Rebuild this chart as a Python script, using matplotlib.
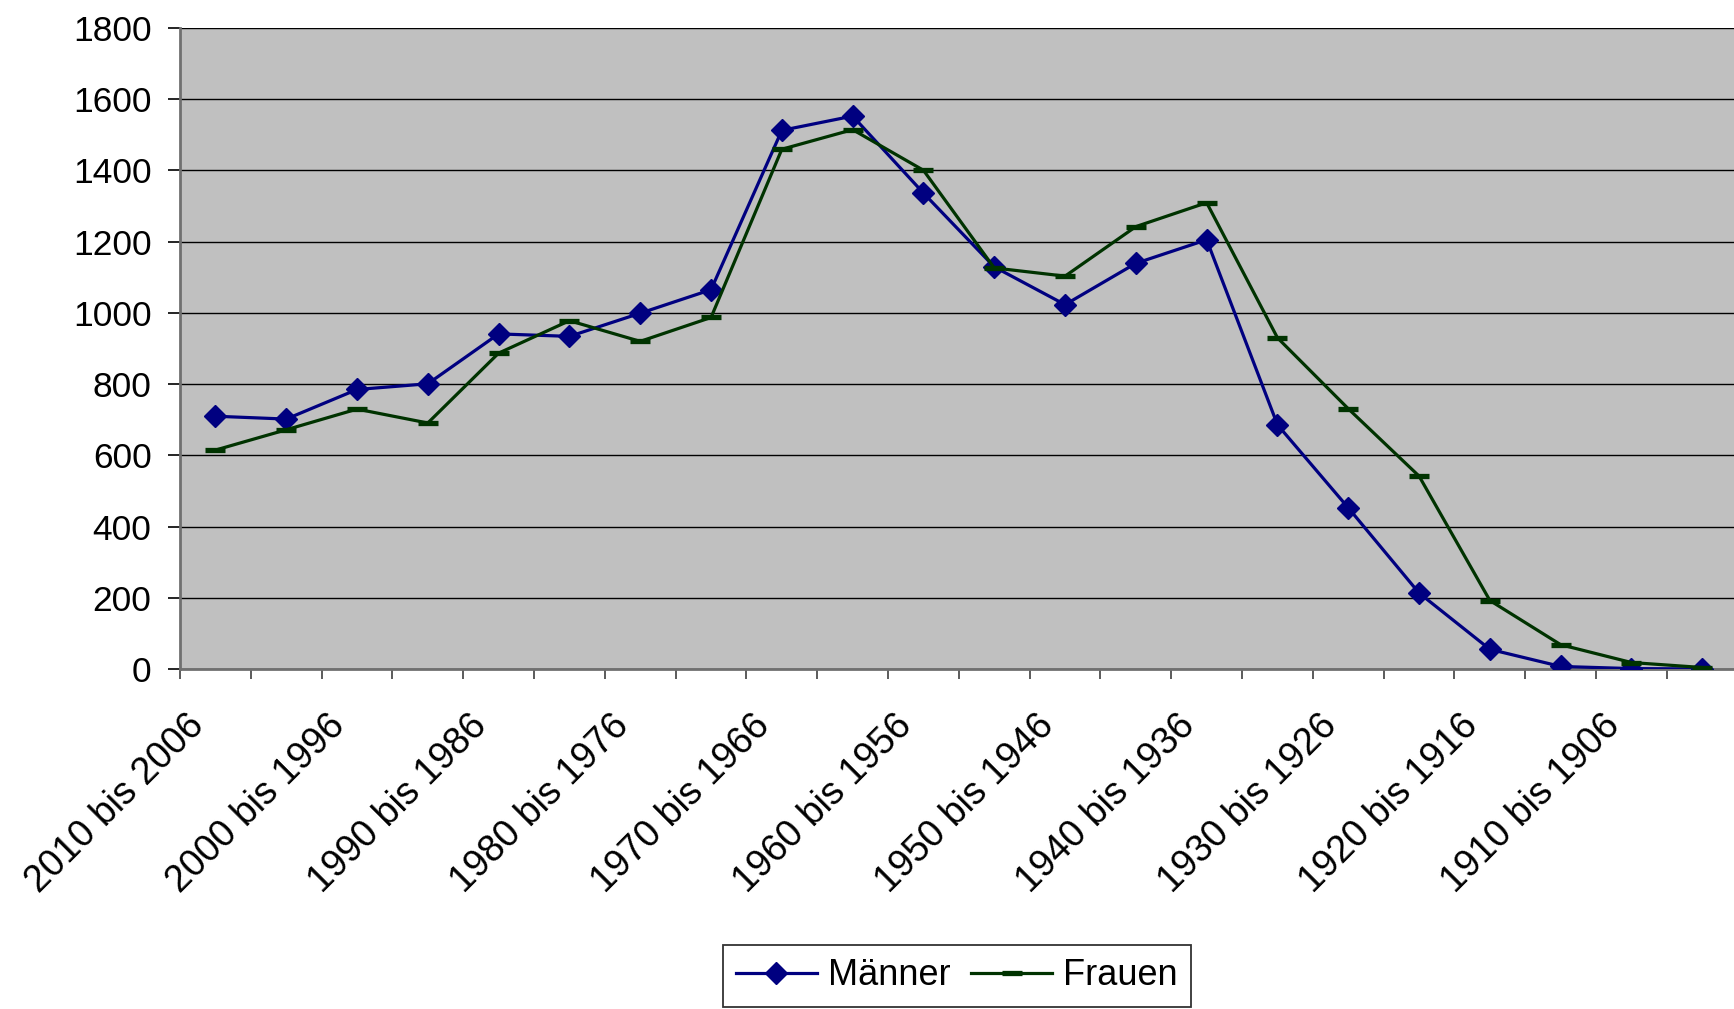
import matplotlib
matplotlib.use("Agg")
import matplotlib.pyplot as plt
from matplotlib.transforms import ScaledTranslation

plt.rcParams['font.family'] = ['Liberation Sans', 'DejaVu Sans']

categories = ["2010 bis 2006", "2005 bis 2001", "2000 bis 1996", "1995 bis 1991",
              "1990 bis 1986", "1985 bis 1981", "1980 bis 1976", "1975 bis 1971",
              "1970 bis 1966", "1965 bis 1961", "1960 bis 1956", "1955 bis 1951",
              "1950 bis 1946", "1945 bis 1941", "1940 bis 1936", "1935 bis 1931",
              "1930 bis 1926", "1925 bis 1921", "1920 bis 1916", "1915 bis 1911",
              "1910 bis 1906", "1905 bis 1901"]
maenner = [710, 702, 785, 801, 941, 934, 999, 1065, 1512, 1552, 1336, 1129,
           1023, 1139, 1205, 686, 453, 214, 56, 8, 2, 1]
frauen = [615, 672, 730, 691, 887, 978, 920, 987, 1459, 1514, 1400, 1126,
          1103, 1242, 1309, 930, 731, 542, 193, 69, 19, 5]
yticks = list(range(0, 1801, 200))

W, H = 1734, 1009
fig = plt.figure(figsize=(W / 100, H / 100), dpi=100)
left, right, top, bottom = 180 / W, 1737.7 / W, 1 - 27.7 / H, 1 - 669.3 / H
ax = fig.add_axes([left, bottom, right - left, top - bottom])
ax.set_facecolor('#C0C0C0')

x = list(range(len(categories)))
ax.plot(x, maenner, color='#000080', lw=2.3, marker='D', markersize=11.5,
        markerfacecolor='#000080', markeredgecolor='#000080', label='Männer', zorder=3)
ax.plot(x, frauen, color='#003300', lw=2.3, marker='_', markersize=15,
        markeredgewidth=3.8, markeredgecolor='#003300', label='Frauen', zorder=3)

ax.set_xlim(-0.5, len(categories) - 0.5)
ax.set_ylim(0, 1800)
ax.set_yticks(yticks)
ax.set_yticklabels([str(v) for v in yticks], fontsize=25.5)
ax.yaxis.grid(True, color='black', lw=1.0)
ax.set_axisbelow(True)

ax.set_xticks(x[::2])
ax.set_xticklabels(categories[::2], fontsize=27, rotation=45, ha='right',
                   va='baseline', rotation_mode='anchor')
ax.set_xticks([i - 0.5 for i in range(len(categories) + 1)], minor=True)
ax.tick_params(axis='x', which='major', length=0, pad=42)
ax.tick_params(axis='x', which='minor', length=7.5, width=1.2, color='#404040')
ax.tick_params(axis='y', which='major', length=8.5, width=1.2, color='black', pad=12)
offset = ScaledTranslation(-0.10, 0, fig.dpi_scale_trans)
for lbl in ax.xaxis.get_majorticklabels():
    lbl.set_transform(lbl.get_transform() + offset)

for s in ['top', 'right']:
    ax.spines[s].set_visible(False)
for s in ['left', 'bottom']:
    ax.spines[s].set_color('#707070')
    ax.spines[s].set_linewidth(2)

leg = fig.legend(loc='upper center', bbox_to_anchor=(956.7 / W, 1 - 945 / H),
                 ncol=2, fontsize=26, frameon=True, fancybox=False,
                 edgecolor='black', handlelength=2.24, handletextpad=0.3,
                 columnspacing=0.58, borderpad=0.37, borderaxespad=0)
leg.get_frame().set_linewidth(1.3)

fig.savefig('out.png', dpi=100)
